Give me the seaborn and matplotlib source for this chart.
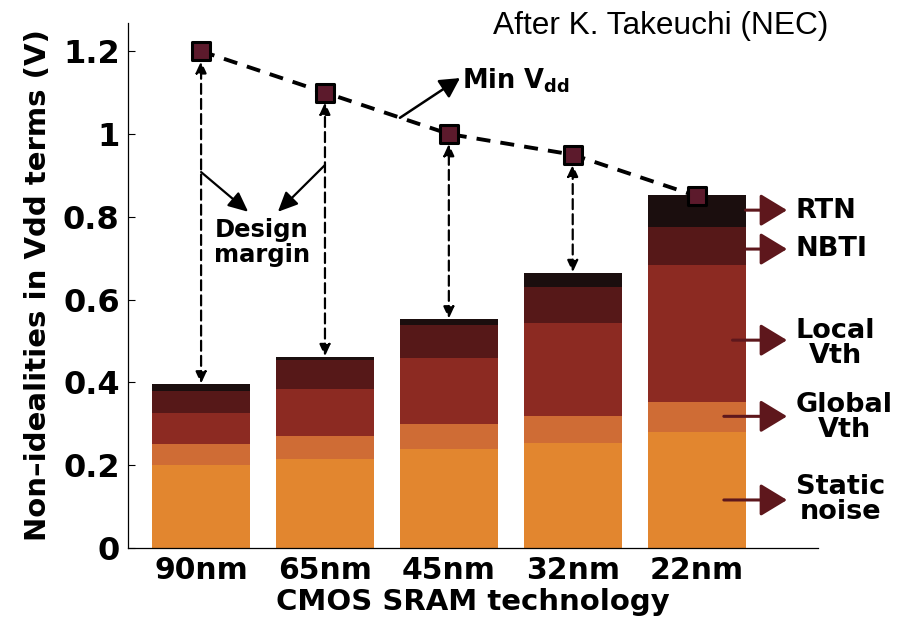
import numpy as np
import seaborn as sns
import matplotlib
matplotlib.use("Agg")
import matplotlib.pyplot as plt
from matplotlib.patches import FancyArrowPatch, ArrowStyle

# --- data -------------------------------------------------------------
techs = ["90nm", "65nm", "45nm", "32nm", "22nm"]
static_noise = [0.200, 0.215, 0.240, 0.254, 0.280]
global_vth = [0.050, 0.055, 0.060, 0.065, 0.073]
local_vth = [0.075, 0.115, 0.160, 0.224, 0.331]
nbti = [0.055, 0.068, 0.078, 0.087, 0.091]
rtn = [0.015, 0.008, 0.014, 0.034, 0.078]
min_vdd = [1.20, 1.10, 1.00, 0.95, 0.85]

component_names = ["Static\nnoise", "Global\nVth", "Local\nVth", "NBTI", "RTN"]
component_colors = ["#E2862F", "#CF6C35", "#8C2A22", "#561818", "#1B0E0E"]
y_ticks = [0, 0.2, 0.4, 0.6, 0.8, 1.0, 1.2]
y_tick_labels = ["0", "0.2", "0.4", "0.6", "0.8", "1", "1.2"]

# --- style ------------------------------------------------------------
sns.set_theme(style="white")
plt.rcParams["font.family"] = ["DejaVu Sans"]
plt.rcParams["mathtext.fontset"] = "dejavusans"
plt.rcParams["text.color"] = "black"
plt.rcParams["axes.labelcolor"] = "black"
plt.rcParams["xtick.color"] = "black"
plt.rcParams["ytick.color"] = "black"

fig = plt.figure(figsize=(9.03, 6.25), dpi=100)
ax = fig.add_axes([128 / 903, 1 - 548 / 625, (818 - 128) / 903, (548 - 23) / 625])

# --- stacked bars (drawn tallest first so lower layers overlay) -------
layers = [static_noise, global_vth, local_vth, nbti, rtn]
stack = np.cumsum(np.array(layers), axis=0)
for i in reversed(range(len(layers))):
    sns.barplot(x=techs, y=stack[i], color=component_colors[i], saturation=1,
                width=0.79, edgecolor="none", ax=ax, zorder=2)

totals = stack[-1]
pos = np.arange(len(techs))

# --- minimum Vdd trend -----------------------------------------------
sns.lineplot(x=pos, y=min_vdd, color="black", lw=2.8,
             linestyle=(0, (3.6, 2.6)), ax=ax, zorder=4)
sns.scatterplot(x=pos, y=min_vdd, marker="s", s=150, color="#5C1A2C",
                edgecolor="black", linewidth=2.2, ax=ax, zorder=5)

# --- design-margin double arrows -------------------------------------
for x, top, v in zip(pos, totals, min_vdd):
    if v - top < 0.05:
        continue
    arr = FancyArrowPatch((x, top + 0.002), (x, v - 0.024),
                          arrowstyle=ArrowStyle("<|-|>", head_length=7, head_width=3.2),
                          mutation_scale=1, lw=1.6, linestyle=(0, (4.5, 2.3)),
                          color="black", shrinkA=0, shrinkB=0, zorder=3)
    ax.add_patch(arr)

# --- annotations -------------------------------------------------------
ax.text(0.49, 0.737, "Design\nmargin", ha="center", va="center",
        fontsize=17.5, fontweight="bold", linespacing=1.05, color="black", zorder=6)
for start, end in [((0.0, 0.908), (0.38, 0.812)), ((1.0, 0.925), (0.62, 0.812))]:
    ax.add_patch(FancyArrowPatch(start, end,
                                 arrowstyle=ArrowStyle("-|>", head_length=12, head_width=5.5),
                                 mutation_scale=1, lw=1.6, color="black",
                                 shrinkA=0, shrinkB=0, zorder=6))

ax.add_patch(FancyArrowPatch((1.605, 1.039), (2.09, 1.135),
                             arrowstyle=ArrowStyle("-|>", head_length=12, head_width=6.5),
                             mutation_scale=1, lw=1.8, color="black",
                             shrinkA=0, shrinkB=0, zorder=6))
ax.text(2.105, 1.128, r"Min V$_{\mathbf{dd}}$", ha="left", va="center",
        fontsize=18.5, fontweight="bold", color="black", zorder=6)

# component labels with arrows beside the last bar
label_y = [0.118, 0.316, 0.495, 0.722, 0.814]
arrow_y = [0.116, 0.318, 0.502, 0.722, 0.816]
arrow_x0 = [4.22, 4.22, 4.29, 4.395, 4.395]
for name, ly, ay, x0 in zip(component_names, label_y, arrow_y, arrow_x0):
    ax.add_patch(FancyArrowPatch((x0, ay), (4.73, ay),
                                 arrowstyle=ArrowStyle("-|>", head_length=16.5, head_width=10),
                                 mutation_scale=1, lw=2.2, color="#5E171C",
                                 shrinkA=0, shrinkB=0, zorder=6, clip_on=False))
    ax.text(4.80, ly, name, ha="left", va="center", multialignment="center",
            fontsize=19.5, fontweight="bold", linespacing=0.95, color="black",
            zorder=6, clip_on=False)

# --- axes -------------------------------------------------------------
ax.set_xlim(-0.59, 4.98)
ax.set_ylim(0, 1.268)
ax.set_yticks(y_ticks, y_tick_labels)
ax.tick_params(axis="y", direction="in", length=5, width=0.8, labelsize=23,
               left=True, pad=6)
ax.tick_params(axis="x", length=0, labelsize=21.5, pad=6)
for lbl in ax.get_yticklabels() + ax.get_xticklabels():
    lbl.set_fontweight("bold")
ax.set_xlabel("CMOS SRAM technology", fontsize=21, fontweight="bold", labelpad=2)
ax.set_ylabel("Non\u2013idealities in Vdd terms (V)", fontsize=21,
              fontweight="bold", labelpad=8)
for side in ["top", "right"]:
    ax.spines[side].set_visible(False)
for side in ["left", "bottom"]:
    ax.spines[side].set_color("black")
    ax.spines[side].set_linewidth(0.9)
ax.set_facecolor("white")

fig.text(493 / 903, 1 - 26 / 625, "After K. Takeuchi (NEC)", ha="left", va="center",
         fontsize=22.8, color="black", family=["Liberation Sans", "DejaVu Sans"])

fig.savefig("out.png", dpi=100, facecolor="white")
